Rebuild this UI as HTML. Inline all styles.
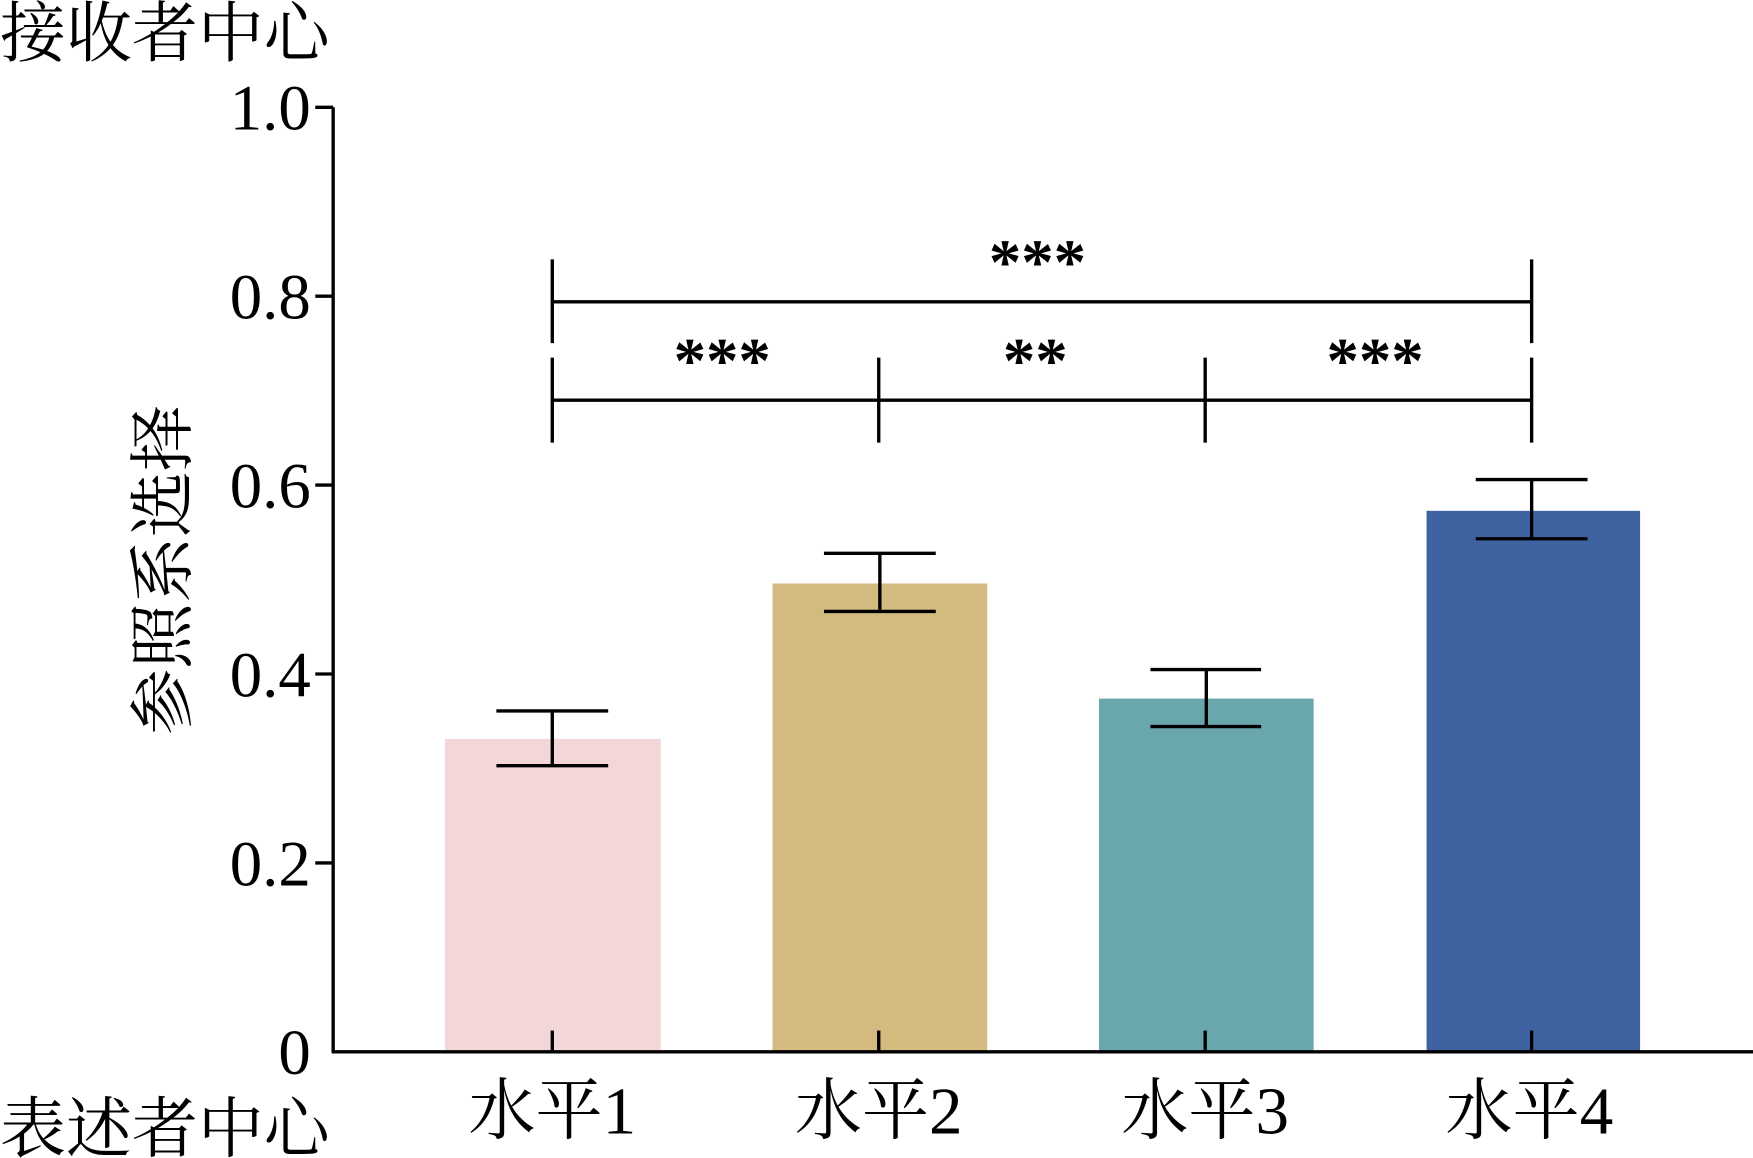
<!DOCTYPE html>
<html><head><meta charset="utf-8">
<style>
html,body{margin:0;padding:0;background:#fff;}
svg{display:block;}
text{font-family:"Liberation Serif","Noto Serif CJK SC",serif;fill:#000;}
</style></head>
<body>
<svg width="1753" height="1158" viewBox="0 0 1568 1036" preserveAspectRatio="none" xmlns="http://www.w3.org/2000/svg">
<rect width="1568" height="1036" fill="#fff"/>
<rect x="398" y="661" width="193" height="280" fill="#f3d7d8"/>
<rect x="691" y="522" width="192" height="419" fill="#d3ba7e"/>
<rect x="983" y="625" width="192" height="316" fill="#69a7ad"/>
<rect x="1276" y="457" width="191" height="484" fill="#3e63a0"/>
<g stroke="#000" stroke-width="3" fill="none">
<line x1="298" y1="96" x2="298" y2="942"/>
<line x1="297" y1="941" x2="1568" y2="941"/>
<line x1="282" y1="96" x2="298" y2="96"/>
<line x1="282" y1="265" x2="298" y2="265"/>
<line x1="282" y1="434" x2="298" y2="434"/>
<line x1="282" y1="603" x2="298" y2="603"/>
<line x1="282" y1="772" x2="298" y2="772"/>
<line x1="494" y1="922" x2="494" y2="941"/>
<line x1="786" y1="922" x2="786" y2="941"/>
<line x1="1078" y1="922" x2="1078" y2="941"/>
<line x1="1370" y1="922" x2="1370" y2="941"/>
<line x1="494" y1="636" x2="494" y2="685"/><line x1="444" y1="636" x2="544" y2="636"/><line x1="444" y1="685" x2="544" y2="685"/>
<line x1="787" y1="495" x2="787" y2="547"/><line x1="737" y1="495" x2="837" y2="495"/><line x1="737" y1="547" x2="837" y2="547"/>
<line x1="1079" y1="599" x2="1079" y2="650"/><line x1="1029" y1="599" x2="1128" y2="599"/><line x1="1029" y1="650" x2="1128" y2="650"/>
<line x1="1370" y1="429" x2="1370" y2="482"/><line x1="1320" y1="429" x2="1420" y2="429"/><line x1="1320" y1="482" x2="1420" y2="482"/>
<line x1="494" y1="270" x2="1370" y2="270"/>
<line x1="494" y1="232" x2="494" y2="307"/>
<line x1="1370" y1="232" x2="1370" y2="307"/>
<line x1="494" y1="358" x2="1370" y2="358"/>
<line x1="494" y1="320" x2="494" y2="396"/>
<line x1="786" y1="320" x2="786" y2="396"/>
<line x1="1078" y1="320" x2="1078" y2="396"/>
<line x1="1370" y1="320" x2="1370" y2="396"/>
</g>
<g font-size="58" text-anchor="middle" font-weight="bold">
<text x="928" y="254">***</text>
<text x="646" y="342">***</text>
<text x="926" y="342">**</text>
<text x="1230" y="342">***</text>
</g>
<g font-size="58" text-anchor="end">
<text x="278" y="116">1.0</text>
<text x="278" y="285">0.8</text>
<text x="278" y="454">0.6</text>
<text x="278" y="623">0.4</text>
<text x="278" y="792">0.2</text>
<text x="278" y="961">0</text>
</g>
<g font-size="60" text-anchor="middle">
<text x="494" y="1014">水平1</text>
<text x="786" y="1014">水平2</text>
<text x="1078" y="1014">水平3</text>
<text x="1368" y="1014">水平4</text>
</g>
<text x="0" y="50" font-size="59">接收者中心</text>
<text x="0" y="1030" font-size="59">表述者中心</text>
<text transform="translate(166,510) rotate(-90)" font-size="59" text-anchor="middle">参照系选择</text>
</svg>
</body></html>
